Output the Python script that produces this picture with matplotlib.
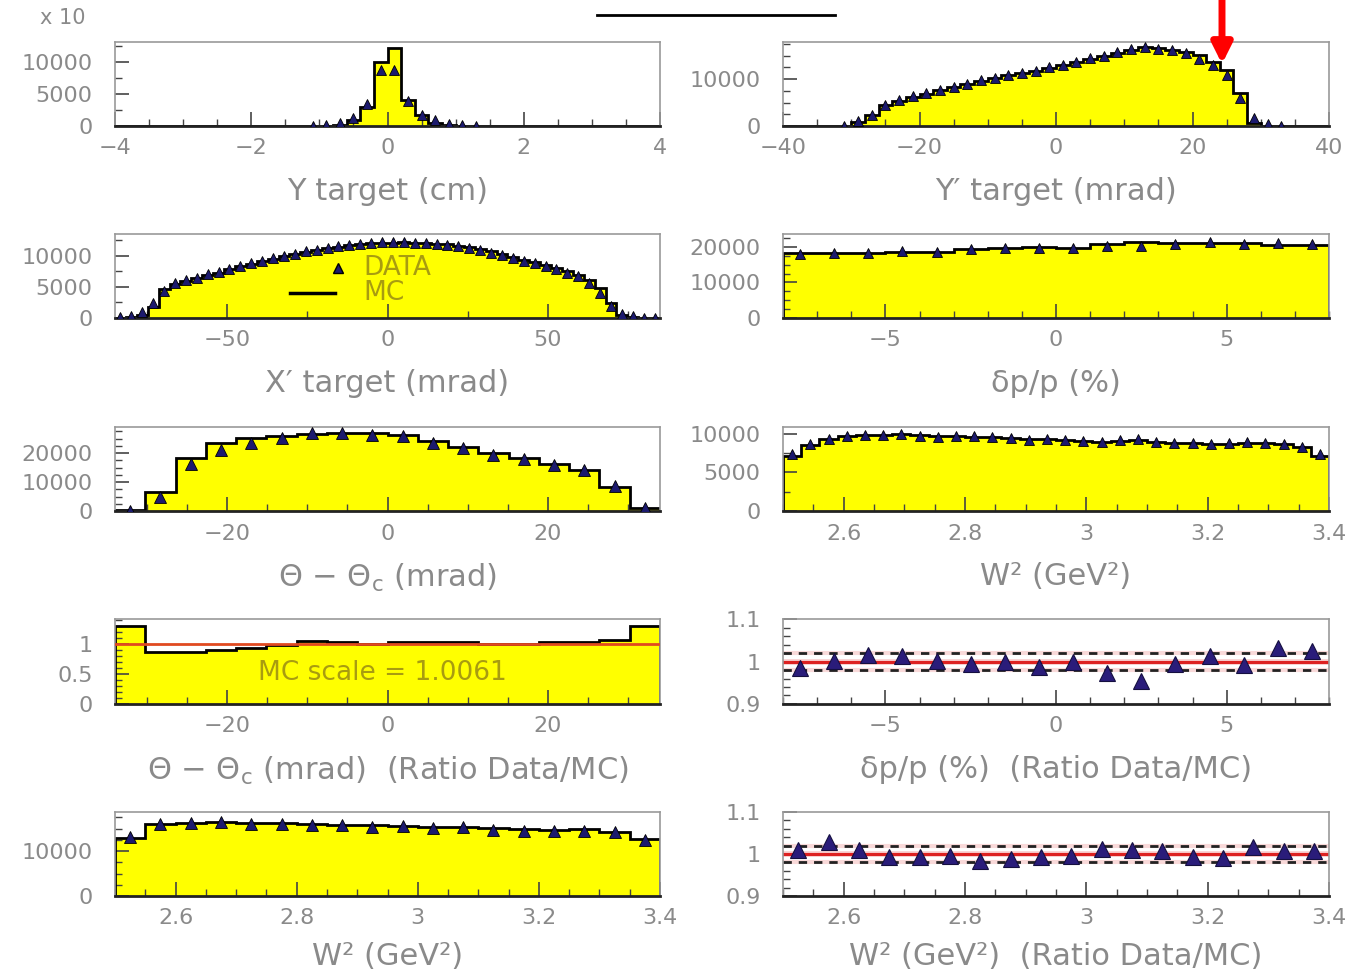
import numpy as np
import matplotlib
matplotlib.use('Agg')
import matplotlib.pyplot as plt
from matplotlib.lines import Line2D
from matplotlib.ticker import MultipleLocator, FuncFormatter

plt.rcParams['font.family'] = ['DejaVu Sans']
plt.rcParams['mathtext.fontset'] = 'dejavusans'

W, H = 1350, 977
YELLOW = '#ffff00'
NAVY = '#1c1a6e'
GRAY = '#8a8a8a'
OLIVE = '#a89c10'

# ---- Y target (cm), 40 bins of 0.2 ----
yt_edges = np.linspace(-4, 4, 41)
yt_mc = [0, 0, 0, 0, 0, 0, 0, 0, 0, 0, 0, 0, 0, 0, 0, 50, 200, 950, 2950, 10000,
         12200, 4100, 1700, 500, 150, 50, 0, 0, 0, 0, 0, 0, 0, 0, 0, 0, 0, 0, 0, 0]
yt_data = [0, 0, 0, 0, 0, 0, 0, 0, 0, 0, 0, 0, 0, 0, 50, 150, 500, 1300, 3400, 8800,
           8800, 3900, 1700, 900, 300, 100, 40, 0, 0, 0, 0, 0, 0, 0, 0, 0, 0, 0, 0, 0]

# ---- Y' target (mrad), 40 bins of 2 ----
yp_edges = np.linspace(-40, 40, 41)
yp_mc = [0, 0, 0, 0, 0, 900, 2400, 4400, 5400, 6200, 6900, 7600, 8300, 8900, 9600, 10200,
         10800, 11200, 11700, 12400, 13000, 13600, 14300, 14900, 15600, 16300, 16800, 16700,
         16300, 15800, 15100, 13700, 11900, 6950, 600, 100, 0, 0, 0, 0]
yp_data = [0, 0, 0, 0, 100, 1000, 2300, 4400, 5500, 6300, 7000, 7700, 8400, 9000, 9700, 10300,
           10900, 11300, 11800, 12500, 13100, 13700, 14400, 15000, 15700, 16400, 16900, 16500,
           16100, 15500, 14300, 13000, 10900, 6000, 1700, 500, 100, 0, 0, 0]

# ---- X' target (mrad), 50 bins of 3.4 ----
xp_edges = np.linspace(-85, 85, 51)
xp_mc = [50, 150, 500, 1800, 4600, 5500, 6000, 6500, 6900, 7300, 7800, 8300, 8700, 9100,
         9500, 9900, 10300, 10600, 10900, 11200, 11400, 11700, 11850, 12000, 12100, 12100,
         12150, 12100, 12050, 11950, 11850, 11600, 11400, 11100, 10700, 10300, 9800, 9400,
         9000, 8500, 8100, 7600, 6900, 6100, 4900, 2400, 500, 150, 50, 0]
xp_data = [100, 300, 900, 2400, 4300, 5600, 6100, 6500, 7000, 7400, 7900, 8300, 8800, 9200,
           9600, 9900, 10300, 10700, 11000, 11200, 11500, 11700, 11900, 12100, 12200, 12200,
           12200, 12100, 12000, 11900, 11700, 11500, 11200, 10900, 10500, 10100, 9700, 9200,
           8800, 8400, 7900, 7300, 6700, 5600, 4000, 1900, 700, 250, 80, 20]

# ---- delta p / p (%), 16 bins of 1 ----
dp_edges = np.linspace(-8, 8, 17)
dp_mc = [18200, 18400, 18150, 18600, 18550, 19400, 19600, 20050, 19650, 20900,
         21250, 21050, 21000, 21050, 20450, 20400]
dp_data = [17900, 18400, 18400, 18800, 18600, 19250, 19600, 19800, 19600, 20350,
           20300, 20900, 21300, 20900, 21100, 20900]
dp_ratio = [0.984, 1.002, 1.016, 1.012, 1.002, 0.994, 1.000, 0.988, 1.000, 0.974,
            0.954, 0.994, 1.014, 0.992, 1.032, 1.024]

# ---- Theta - Theta_c (mrad), 18 bins ----
th_edges = np.linspace(-34, 34, 19)
th_mc = [300, 6700, 18300, 23500, 25100, 26000, 26700, 27100, 27100, 26200, 24100,
         22100, 20000, 18300, 16300, 14000, 8400, 1200]
th_data = [100, 4900, 16300, 21200, 23500, 25200, 26900, 26900, 26400, 25800, 23600,
           21700, 19200, 18000, 16000, 14200, 8700, 1200]
th_ratio = [1.31, 0.87, 0.87, 0.90, 0.94, 0.98, 1.05, 1.04, 1.01, 1.03, 1.03, 1.03,
            1.01, 1.01, 1.03, 1.03, 1.07, 1.31]

# ---- W^2 (GeV^2), fine binning: 30 bins ----
w2f_edges = np.linspace(2.5, 3.4, 31)
w2f_mc = [7200, 8500, 9400, 9750, 9850, 9900, 9950, 9800, 9700, 9750, 9650, 9550, 9450,
          9300, 9300, 9200, 9100, 9000, 9100, 9250, 8950, 8850, 8800, 8750, 8750, 8850,
          8800, 8700, 8300, 7200]
w2f_data = [7400, 8700, 9350, 9780, 9870, 9870, 10000, 9780, 9650, 9780, 9700, 9570, 9480,
            9220, 9350, 9220, 9050, 9000, 9220, 9350, 8920, 8840, 8790, 8700, 8790, 8920,
            8790, 8700, 8280, 7400]

# ---- W^2 (GeV^2), coarse binning: 18 bins ----
w2c_edges = np.linspace(2.5, 3.4, 19)
w2c_mc = [12860, 16070, 16290, 16570, 16290, 16200, 16070, 15860, 15710, 15570, 15360,
          15450, 15140, 14860, 14800, 14860, 14290, 12640]
w2c_data = [13200, 16070, 16210, 16570, 16070, 16070, 15710, 15710, 15360, 15570, 15140,
            15360, 14640, 14500, 14500, 14500, 14290, 12500]
w2c_ratio = [1.010, 1.028, 1.010, 0.992, 0.992, 0.996, 0.984, 0.988, 0.994, 0.996,
             1.012, 1.010, 1.006, 0.992, 0.990, 1.017, 1.008, 1.006]


def centers(edges):
    return 0.5 * (edges[:-1] + edges[1:])


def make_ax(fig, x0, y0, x1, y1):
    return fig.add_axes([x0 / W, 1 - y1 / H, (x1 - x0) / W, (y1 - y0) / H])


# plain number labels like "3", "2.6", with a real minus sign
tick_fmt = FuncFormatter(lambda v, pos: ('%g' % round(v, 6)).replace('-', '\u2212'))


def style(ax, xlim, ylim, xmaj, xmin, ymaj, ymin, xlabel, yticks=None, labelpad=13):
    ax.set_xlim(*xlim)
    ax.set_ylim(*ylim)
    ax.xaxis.set_major_locator(MultipleLocator(xmaj))
    ax.xaxis.set_minor_locator(MultipleLocator(xmin))
    ax.xaxis.set_major_formatter(tick_fmt)
    if yticks is not None:
        ax.set_yticks(yticks)
    else:
        ax.yaxis.set_major_locator(MultipleLocator(ymaj))
    ax.yaxis.set_major_formatter(tick_fmt)
    ax.yaxis.set_minor_locator(MultipleLocator(ymin))
    ax.tick_params(which='both', direction='in', top=False, right=False,
                   color='#444444', labelcolor=GRAY, labelsize=16)
    ax.tick_params(axis='x', which='major', length=10, width=1.2, pad=9)
    ax.tick_params(axis='x', which='minor', length=5, width=1)
    ax.tick_params(axis='y', which='major', length=10, width=1.2, pad=16)
    ax.tick_params(axis='y', which='minor', length=5, width=1)
    for s in ax.spines.values():
        s.set_color('#999999')
        s.set_linewidth(1.2)
    ax.spines['bottom'].set_color('#222222')
    ax.spines['bottom'].set_linewidth(2)
    ax.set_xlabel(xlabel, color=GRAY, fontsize=22, labelpad=labelpad)
    ax.patch.set_alpha(0)


def hist_panel(ax, edges, mc, data, ms=7):
    ax.stairs(mc, edges, fill=True, color=YELLOW, zorder=1)
    ax.stairs(mc, edges, color='black', lw=2, zorder=2)
    c = centers(edges)
    d = np.asarray(data, dtype=float)
    keep = d > 0
    ax.plot(c[keep], d[keep], '^', ms=ms, color=NAVY, mec='black', mew=0.6, zorder=3)


def ratio_panel(ax, edges, ratio):
    ax.axhline(1.0, color='#f08a8a', lw=4, alpha=0.45, zorder=1)
    ax.axhline(1.0, color='#dd2222', lw=2.2, zorder=2)
    for lvl in (1.02, 0.98):
        ax.axhline(lvl, color='#f0a0a0', lw=3, alpha=0.4, zorder=1)
        ax.axhline(lvl, color='#222222', lw=2, ls=(0, (3, 2.5)), zorder=2)
    ax.plot(centers(edges), ratio, '^', ms=12, color='#2a1c7a', mec='#150f40', mew=0.8, zorder=3)


fig = plt.figure(figsize=(W / 100, H / 100), dpi=100)

LX = (115, 660)
RX = (783, 1329)
ROWS = [(42, 126), (234, 318), (427, 511), (619, 704), (812, 896)]
THETA = '\u0398 \u2212 \u0398$_\\mathrm{c}$ (mrad)'
W2 = 'W\u00b2 (GeV\u00b2)'

# Row 1
ax = make_ax(fig, LX[0], ROWS[0][0], LX[1], ROWS[0][1])
hist_panel(ax, yt_edges, yt_mc, yt_data)
style(ax, (-4, 4), (0, 13100), 2, 0.5, 5000, 2500, 'Y target (cm)')

ax = make_ax(fig, RX[0], ROWS[0][0], RX[1], ROWS[0][1])
hist_panel(ax, yp_edges, yp_mc, yp_data)
style(ax, (-40, 40), (0, 17900), 20, 5, 10000, 2500, 'Y\u2032 target (mrad)')

# Row 2
ax = make_ax(fig, LX[0], ROWS[1][0], LX[1], ROWS[1][1])
hist_panel(ax, xp_edges, xp_mc, xp_data)
style(ax, (-85, 85), (0, 13500), 50, 25, 5000, 2500, 'X\u2032 target (mrad)')
ax.plot([0.409], [0.595], '^', ms=7, color=NAVY, mec='black', transform=ax.transAxes, zorder=4)
ax.text(0.455, 0.595, 'DATA', color=OLIVE, fontsize=19, va='center', transform=ax.transAxes, zorder=4)
ax.plot([0.321, 0.404], [0.30, 0.30], color='black', lw=2.5, transform=ax.transAxes, zorder=4)
ax.text(0.455, 0.30, 'MC', color=OLIVE, fontsize=19, va='center', transform=ax.transAxes, zorder=4)

ax = make_ax(fig, RX[0], ROWS[1][0], RX[1], ROWS[1][1])
hist_panel(ax, dp_edges, dp_mc, dp_data)
style(ax, (-8, 8), (0, 23600), 5, 1, 10000, 2500, '\u03b4p/p (%)')

# Row 3
ax = make_ax(fig, LX[0], ROWS[2][0], LX[1], ROWS[2][1])
hist_panel(ax, th_edges, th_mc, th_data, ms=8)
style(ax, (-34, 34), (0, 29000), 20, 5, 10000, 2500, THETA)

ax = make_ax(fig, RX[0], ROWS[2][0], RX[1], ROWS[2][1])
hist_panel(ax, w2f_edges, w2f_mc, w2f_data)
style(ax, (2.5, 3.4), (0, 10900), 0.2, 0.05, 5000, 2500, W2)

# Row 4
ax = make_ax(fig, LX[0], ROWS[3][0], LX[1], ROWS[3][1])
ax.stairs(th_ratio, th_edges, fill=True, color=YELLOW, zorder=1)
ax.stairs(th_ratio, th_edges, color='black', lw=2, zorder=2)
ax.axhline(1.0, color='#e04a20', lw=2, zorder=3)
style(ax, (-34, 34), (0, 1.42), 20, 5, 0.5, 0.1,
      THETA + '  (Ratio Data/MC)', yticks=[0, 0.5, 1])
ax.text(0.49, 0.365, 'MC scale = 1.0061', color=OLIVE, fontsize=19, ha='center',
        va='center', transform=ax.transAxes, zorder=4)

ax = make_ax(fig, RX[0], ROWS[3][0], RX[1], ROWS[3][1])
ratio_panel(ax, dp_edges, dp_ratio)
style(ax, (-8, 8), (0.9, 1.1), 5, 1, 0.1, 0.02, '\u03b4p/p (%)  (Ratio Data/MC)',
      yticks=[0.9, 1.0, 1.1])

# Row 5
ax = make_ax(fig, LX[0], ROWS[4][0], LX[1], ROWS[4][1])
hist_panel(ax, w2c_edges, w2c_mc, w2c_data, ms=8)
style(ax, (2.5, 3.4), (0, 18700), 0.2, 0.05, 10000, 2500, W2, labelpad=10)

ax = make_ax(fig, RX[0], ROWS[4][0], RX[1], ROWS[4][1])
ratio_panel(ax, w2c_edges, w2c_ratio)
style(ax, (2.5, 3.4), (0.9, 1.1), 0.2, 0.05, 0.1, 0.02, W2 + '  (Ratio Data/MC)',
      yticks=[0.9, 1.0, 1.1], labelpad=10)

# figure decorations
fig.text(63 / W, 1 - 18 / H, 'x 10', color=GRAY, fontsize=15, ha='center', va='center')
fig.add_artist(Line2D([597 / W, 835 / W], [1 - 15 / H, 1 - 15 / H], color='black', lw=2))
plt.annotate('', xy=(1222 / W, 1 - 64 / H), xytext=(1222 / W, 1.0),
             xycoords='figure fraction', textcoords='figure fraction',
             arrowprops=dict(arrowstyle='-|>', color='red', lw=5, mutation_scale=30,
                             shrinkA=0, shrinkB=0))

fig.savefig('out.png', dpi=100, facecolor='white')
